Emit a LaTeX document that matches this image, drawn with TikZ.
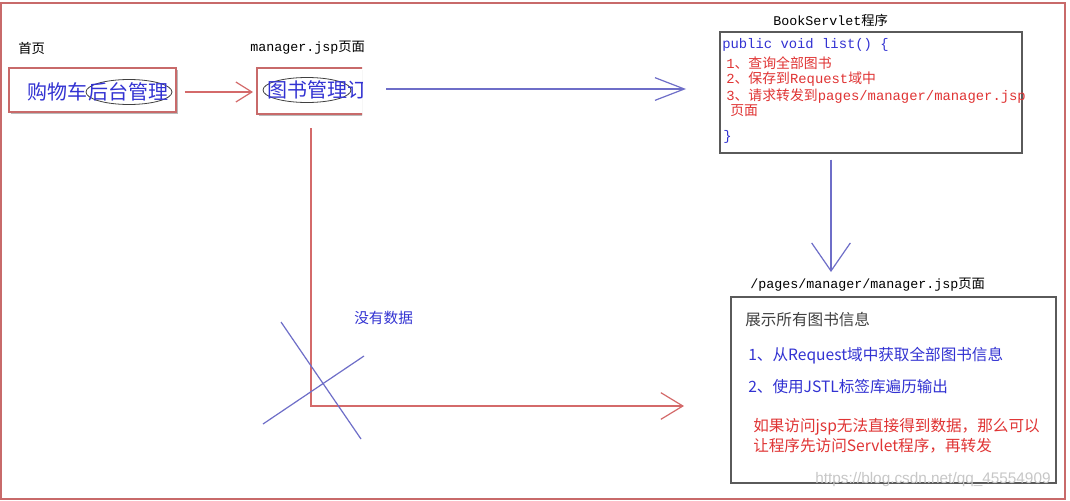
\documentclass[tikz,border=0pt]{standalone}
\usepackage{fontspec}
\setmainfont{Noto Sans CJK SC}
\newfontfamily\cjk{Noto Sans CJK SC}
\newfontfamily\mono{Liberation Mono}
\newfontfamily\wmfont{Liberation Sans}
\usetikzlibrary{arrows.meta,shadows,shapes.geometric}
\definecolor{frameRed}{HTML}{C86A6A}
\definecolor{txtBlue}{HTML}{3232D2}
\definecolor{txtRed}{HTML}{E03434}
\definecolor{lineBlue}{HTML}{6E6EC8}
\definecolor{lineRed}{HTML}{D46A6A}
\definecolor{boxGray}{HTML}{5A5A5A}
\newcommand\zh[1]{{\cjk #1}}
\tikzset{
  redbox/.style={draw=frameRed, line width=1.2pt, fill=white, inner sep=0pt,
    drop shadow={shadow xshift=1.2pt, shadow yshift=-1.6pt, fill=black!45, opacity=0.6}},
  graybox/.style={draw=boxGray, line width=1pt, inner sep=0pt},
  lbl/.style={anchor=west, inner sep=0pt, font=\mono\fontsize{10pt}{12pt}\selectfont, text=black},
  code/.style={anchor=west, inner sep=0pt, font=\mono\fontsize{10.4pt}{12pt}\selectfont},
  info/.style={anchor=west, inner sep=0pt, font=\cjk\fontsize{11.7pt}{13pt}\selectfont},
  bigtxt/.style={anchor=west, inner sep=0pt, font=\cjk\fontsize{15pt}{17pt}\selectfont, text=txtBlue},
  oval/.style={ellipse, draw=black!75, line width=0.6pt, inner sep=0pt},
  bluearrow/.style={draw=lineBlue, line width=0.9pt},
  redarrow/.style={draw=lineRed, line width=0.9pt},
}
\begin{document}
\begin{tikzpicture}[x=0.75pt,y=-0.75pt]
\useasboundingbox (0,0) rectangle (1070,500);
\fill[white] (0,0) rectangle (1070,500);
% outer frame
\draw[frameRed, line width=1.5pt] (1,3) rectangle (1065,499);

% home page
\node[lbl] (homelbl) at (18,48) {\zh{首页}};
\node[redbox, minimum width=125.25pt, minimum height=33pt] (box1) at (92.5,90) {};
\node[bigtxt] (cart) at (27,92) {购物车};
\node[oval, minimum width=64.5pt, minimum height=18.75pt] (admin) at (129,92) {};
\node[bigtxt] (admintxt) at (88,92) {后台管理};

% manager.jsp page
\node[lbl] (mgrlbl) at (250,48) {manager.jsp\zh{页面}};
\begin{scope}
  \clip (240,55) rectangle (362,125);
  \node[redbox, minimum width=120pt, minimum height=34.5pt] (box2) at (337,91) {};
  \node[oval, minimum width=66pt, minimum height=18.75pt] (booksoval) at (307,90) {};
  \node[bigtxt] (books) at (267,90) {图书管理订单管理};
\end{scope}
\coordinate (box2r) at (362,88);

% Servlet
\node[lbl] (servletlbl) at (773,20) {BookServlet\zh{程序}};
\node[graybox, minimum width=226.5pt, minimum height=90.75pt] (servlet) at (871,92.5) {};
\node[code, text=txtBlue] (c0) at (722,45) {public void list() \{};
\node[code, text=txtRed] (c1) at (726,63) {1\zh{、查询全部图书}};
\node[code, text=txtRed] (c2) at (726,79) {2\zh{、保存到}Request\zh{域中}};
\node[code, text=txtRed] (c3) at (726,96) {3\zh{、请求转发到}pages/manager/manager.jsp};
\node[code, text=txtRed] (c4) at (730,111) {\zh{页面}};
\node[code, text=txtBlue] (c5) at (723,137) {\}};

% result page
\node[lbl] (pagelbl) at (750,285) {/pages/manager/manager.jsp\zh{页面}};
\node[graybox, minimum width=243.75pt, minimum height=139.5pt] (page) at (893.5,390) {};
\node[info, text=black!75] (p0) at (745,320) {展示所有图书信息};
\node[info, text=txtBlue] (p1) at (748,356) {1、从Request域中获取全部图书信息};
\node[info, text=txtBlue] (p2) at (748,387) {2、使用JSTL标签库遍历输出};
\node[info, text=txtRed] (p3) at (753,427) {如果访问jsp无法直接得到数据，那么可以};
\node[info, text=txtRed] (p4) at (753,446) {让程序先访问Servlet程序，再转发};

% arrows
\draw[redarrow, -{Straight Barb[length=12pt, width=15pt, line width=0.9pt]}]
  (box1.east) ++(8,2) coordinate (a1s) -- (253,92) coordinate (a1e);
\draw[bluearrow, -{Straight Barb[length=22pt, width=17pt, line width=0.9pt]}]
  (box2r) ++(24,1) coordinate (a2s) -- (686,89) coordinate (a2e);
\draw[bluearrow, -{Straight Barb[length=21pt, width=29pt, line width=0.9pt]}]
  (servlet.south) ++(-40,6) coordinate (a3s) -- (831,272) coordinate (a3e);

% no-data path
\coordinate (nstart) at (311,128);
\coordinate (ncorner) at (311,406);
\coordinate (nend) at (684,406);
\draw[redarrow, -{Straight Barb[length=16.5pt, width=20pt, line width=0.9pt]}]
  (nstart) -- (ncorner) -- (nend);
\node[info, text=txtBlue, font=\cjk\fontsize{11pt}{13pt}\selectfont] (nodata) at (354,318) {没有数据};
\coordinate (x1a) at (281,322);
\coordinate (x1b) at (361,439);
\coordinate (x2a) at (263,424);
\coordinate (x2b) at (364,356);
\draw[bluearrow] (x1a) -- (x1b);
\draw[bluearrow] (x2a) -- (x2b);

% watermark
\node[anchor=west, inner sep=0pt, text=black!22, font=\wmfont\fontsize{11.5pt}{13pt}\selectfont] (wm) at (815,480) {https://blog.csdn.net/qq\_45554909};
\end{tikzpicture}
\end{document}
